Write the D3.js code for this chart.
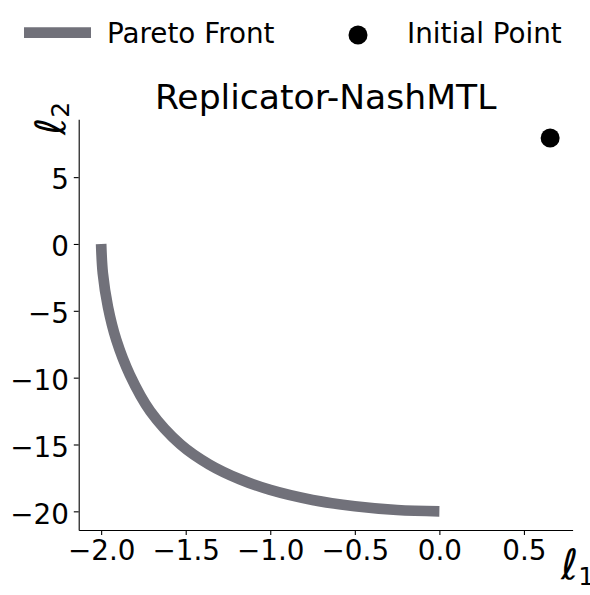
<!DOCTYPE html>
<html>
<head>
	<meta charset="utf-8">
	<title>Replicator-NashMTL</title>
	<script src="https://d3js.org/d3.v7.min.js"></script>
	<style>
		body { margin: 0; background: #fff; }
		text { font-family: "DejaVu Sans", sans-serif; fill: #000; }
		.axis path, .axis line { stroke: #000; stroke-width: 1.1px; }
		.axis text { font-size: 27.8px; }
	</style>
</head>
<body>
	<div id="chart"></div>
	<script>
		// pareto front
		var frontL1 = [-2.0, -1.99, -1.96, -1.91, -1.83, -1.71, -1.53, -1.36, -1.18, -1.00, -0.75, -0.50, -0.25, 0.0];
		var frontL2 = [0, -2.2, -4.7, -7.2, -9.8, -12.5, -15.0, -16.5, -17.6, -18.4, -19.15, -19.62, -19.9, -20.0];

		// initial point
		var initL1 = [0.655];
		var initL2 = [7.93];

		var xTicks = [-2.0, -1.5, -1.0, -0.5, 0.0, 0.5];
		var yTicks = [-20, -15, -10, -5, 0, 5];

		var legendLabels = ["Pareto Front", "Initial Point"];
		var title = "Replicator-NashMTL";

		var
			width = 590,
			height = 595,
			axLeft = 78.7,
			axRight = 572.6,
			axTop = 119.3,
			axBottom = 530;

		var frontColor = "#71717a";

		var svg = d3.select("#chart")
			.append("svg")
			.attr("width", width)
			.attr("height", height);

		// matplotlib style 5% margins
		function padded(vals) {
			var e = d3.extent(vals), p = (e[1] - e[0]) * 0.05;
			return [e[0] - p, e[1] + p];
		}

		var x = d3.scaleLinear()
			.domain(padded(frontL1.concat(initL1)))
			.range([axLeft, axRight]);

		var y = d3.scaleLinear()
			.domain(padded(frontL2.concat(initL2)))
			.range([axBottom, axTop]);

		svg.append("g")
			.attr("class", "axis")
			.attr("transform", "translate(0," + axBottom + ")")
			.call(d3.axisBottom(x)
				.tickValues(xTicks)
				.tickFormat(d3.format(".1f"))
				.tickSize(4.9)
				.tickSizeOuter(0)
				.tickPadding(4.9));

		svg.append("g")
			.attr("class", "axis")
			.attr("transform", "translate(" + axLeft + ",0)")
			.call(d3.axisLeft(y)
				.tickValues(yTicks)
				.tickFormat(d3.format("d"))
				.tickSize(4.9)
				.tickSizeOuter(0)
				.tickPadding(4.9))
			.selectAll("text")
			.attr("dy", "0.42em");

		var pts = frontL1.map(function(d, i) { return [d, frontL2[i]]; });

		var line = d3.line()
			.x(function(d) { return x(d[0]); })
			.y(function(d) { return y(d[1]); })
			.curve(d3.curveCatmullRom.alpha(0.5));

		svg.append("path")
			.datum(pts)
			.attr("d", line)
			.attr("fill", "none")
			.attr("stroke", frontColor)
			.attr("stroke-width", 10.7);

		svg.selectAll(".init")
			.data(initL1)
			.enter().append("circle")
			.attr("class", "init")
			.attr("cx", function(d) { return x(d); })
			.attr("cy", function(d, i) { return y(initL2[i]); })
			.attr("r", 9.5)
			.attr("fill", "#000");

		// title
		svg.append("text")
			.attr("x", (axLeft + axRight) / 2)
			.attr("y", 109)
			.attr("text-anchor", "middle")
			.attr("font-size", 34.6)
			.text(title);

		// axis labels
		var xl = svg.append("text")
			.attr("x", 561)
			.attr("y", 579)
			.attr("font-size", 41.7)
			.attr("font-style", "italic");
		xl.append("tspan").text("ℓ");
		xl.append("tspan").attr("font-size", 25).attr("dy", 6).attr("font-style", "normal").text("1");

		var yl = svg.append("text")
			.attr("transform", "translate(65,135) rotate(-90)")
			.attr("font-size", 41.7)
			.attr("font-style", "italic");
		yl.append("tspan").text("ℓ");
		yl.append("tspan").attr("font-size", 25).attr("dy", 4).attr("font-style", "normal").text("2");

		// legend
		var lg = svg.append("g");
		lg.append("line")
			.attr("x1", 24).attr("x2", 91)
			.attr("y1", 32.7).attr("y2", 32.7)
			.attr("stroke", frontColor)
			.attr("stroke-width", 10.7);
		lg.append("text")
			.attr("x", 107)
			.attr("y", 43.3)
			.attr("font-size", 27.8)
			.text(legendLabels[0]);
		lg.append("circle")
			.attr("cx", 358).attr("cy", 35)
			.attr("r", 9.5)
			.attr("fill", "#000");
		lg.append("text")
			.attr("x", 407)
			.attr("y", 43.3)
			.attr("font-size", 27.8)
			.text(legendLabels[1]);
	</script>
</body>
</html>
